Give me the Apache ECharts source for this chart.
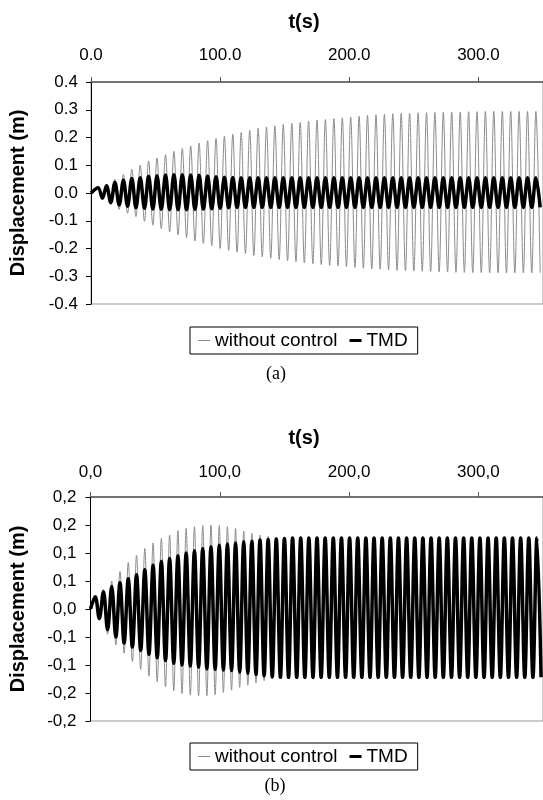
<!DOCTYPE html>
<html><head><meta charset="utf-8">
<script src="https://cdn.jsdelivr.net/npm/echarts@6/dist/echarts.min.js"></script>
<style>
html,body{margin:0;padding:0;background:#fff;width:543px;height:800px;overflow:hidden}
#ca,#cb{position:absolute;left:0;width:543px;height:400px}
#ca{top:0}#cb{top:400px}
</style></head><body>
<div id="ca"></div><div id="cb"></div>
<script>
// ---------- Panel (a): times of successive extrema (s) and displacement values (m)
const tA = [0,
  5.5, 8.8, 12.0, 15.3, 18.5, 21.8, 25.1, 28.3, 31.6, 34.8,
  38.1, 41.4, 44.6, 47.9, 51.1, 54.4, 57.7, 60.9, 64.2, 67.4,
  70.7, 74.0, 77.2, 80.5, 83.7, 87.0, 90.3, 93.5, 96.8, 100.0,
  103.3, 106.6, 109.8, 113.1, 116.3, 119.6, 122.9, 126.1, 129.4, 132.6,
  135.9, 139.2, 142.4, 145.7, 148.9, 152.2, 155.5, 158.7, 162.0, 165.2,
  168.5, 171.8, 175.0, 178.3, 181.5, 184.8, 188.1, 191.3, 194.6, 197.8,
  201.1, 204.4, 207.6, 210.9, 214.1, 217.4, 220.7, 223.9, 227.2, 230.4,
  233.7, 237.0, 240.2, 243.5, 246.7, 250.0, 253.3, 256.5, 259.8, 263.0,
  266.3, 269.6, 272.8, 276.1, 279.3, 282.6, 285.9, 289.1, 292.4, 295.6,
  298.9, 302.2, 305.4, 308.7, 311.9, 315.2, 318.5, 321.7, 325.0, 328.2,
  331.5, 334.8, 338.0, 341.3, 344.5, 347.8];
const withoutA = [0,
  0.018, -0.02, 0.03, -0.042, 0.05, -0.059, 0.067, -0.073, 0.085, -0.085,
  0.10, -0.102, 0.115, -0.116, 0.126, -0.128, 0.138, -0.14, 0.15, -0.151,
  0.161, -0.161, 0.169, -0.173, 0.18, -0.182, 0.188, -0.19, 0.197, -0.2,
  0.205, -0.207, 0.212, -0.213, 0.218, -0.219, 0.226, -0.225, 0.233, -0.23,
  0.238, -0.235, 0.242, -0.24, 0.247, -0.244, 0.251, -0.248, 0.254, -0.252,
  0.259, -0.255, 0.263, -0.258, 0.265, -0.261, 0.268, -0.263, 0.271, -0.266,
  0.274, -0.268, 0.277, -0.271, 0.28, -0.273, 0.282, -0.275, 0.283, -0.277,
  0.286, -0.279, 0.287, -0.28, 0.288, -0.281, 0.289, -0.282, 0.29, -0.283,
  0.29, -0.284, 0.291, -0.285, 0.292, -0.286, 0.292, -0.286, 0.293, -0.287,
  0.293, -0.287, 0.294, -0.288, 0.294, -0.288, 0.294, -0.288, 0.294, -0.288,
  0.294, -0.288, 0.294, -0.288, 0.294, -0.288];
const tmdA = [0,
  0.019, -0.019, 0.026, -0.034, 0.038, -0.043, 0.046, -0.048, 0.052, -0.053,
  0.055, -0.055, 0.06, -0.058, 0.062, -0.059, 0.065, -0.06, 0.066, -0.06,
  0.066, -0.06, 0.065, -0.059, 0.064, -0.058, 0.061, -0.057, 0.059, -0.055,
  0.057, -0.053, 0.056, -0.052, 0.055, -0.052, 0.055, -0.052, 0.055, -0.052,
  0.055, -0.052, 0.055, -0.052, 0.055, -0.052, 0.055, -0.052, 0.055, -0.052,
  0.055, -0.052, 0.055, -0.052, 0.055, -0.052, 0.055, -0.052, 0.055, -0.052,
  0.055, -0.052, 0.055, -0.052, 0.055, -0.052, 0.055, -0.052, 0.055, -0.052,
  0.055, -0.052, 0.055, -0.052, 0.055, -0.052, 0.055, -0.052, 0.055, -0.052,
  0.055, -0.052, 0.055, -0.052, 0.055, -0.052, 0.055, -0.052, 0.055, -0.052,
  0.055, -0.052, 0.055, -0.052, 0.055, -0.052, 0.055, -0.052, 0.055, -0.052,
  0.055, -0.052, 0.055, -0.052, 0.055, -0.052];

// ---------- Panel (b)
const tB = [0,
  3.6, 6.8, 10.0, 13.2, 16.4, 19.6, 22.8, 26.0, 29.2, 32.4,
  35.6, 38.8, 42.0, 45.2, 48.4, 51.6, 54.8, 58.0, 61.2, 64.4,
  67.6, 70.8, 74.0, 77.2, 80.4, 83.6, 86.8, 90.0, 93.2, 96.4,
  99.6, 102.8, 105.9, 109.1, 112.2, 115.4, 118.5, 121.7, 124.8, 128.0,
  131.1, 134.3, 137.4, 140.6, 143.7, 146.9, 150.0, 153.2, 156.3, 159.5,
  162.6, 165.8, 168.9, 172.1, 175.2, 178.4, 181.5, 184.7, 187.8, 191.0,
  194.1, 197.3, 200.4, 203.6, 206.7, 209.9, 213.0, 216.2, 219.3, 222.5,
  225.6, 228.8, 231.9, 235.1, 238.2, 241.4, 244.5, 247.7, 250.8, 254.0,
  257.1, 260.3, 263.4, 266.6, 269.7, 272.9, 276.0, 279.2, 282.3, 285.5,
  288.6, 291.8, 294.9, 298.1, 301.2, 304.4, 307.5, 310.7, 313.8, 317.0,
  320.1, 323.3, 326.4, 329.6, 332.7, 335.9, 339.0, 342.2, 345.3, 348.5];
const withoutB = [0,
  0.022, -0.02, 0.035, -0.045, 0.05, -0.064, 0.067, -0.079, 0.083, -0.094,
  0.096, -0.108, 0.108, -0.12, 0.118, -0.13, 0.126, -0.139, 0.132, -0.146,
  0.14, -0.151, 0.144, -0.154, 0.147, -0.155, 0.149, -0.155, 0.15, -0.153,
  0.149, -0.149, 0.147, -0.145, 0.144, -0.14, 0.139, -0.136, 0.135, -0.132,
  0.132, -0.128, 0.13, -0.125, 0.128, -0.123, 0.126, -0.121, 0.125, -0.12,
  0.124, -0.12, 0.124, -0.12, 0.124, -0.12, 0.124, -0.12, 0.124, -0.12,
  0.124, -0.12, 0.124, -0.12, 0.124, -0.12, 0.124, -0.12, 0.124, -0.12,
  0.124, -0.12, 0.124, -0.12, 0.124, -0.12, 0.124, -0.12, 0.124, -0.12,
  0.124, -0.12, 0.124, -0.12, 0.124, -0.12, 0.124, -0.12, 0.124, -0.12,
  0.124, -0.12, 0.124, -0.12, 0.124, -0.12, 0.124, -0.12, 0.124, -0.12,
  0.124, -0.12, 0.124, -0.12, 0.124, -0.12, 0.124, -0.12, 0.124, -0.12];
const tmdB = [0,
  0.022, -0.017, 0.031, -0.037, 0.04, -0.05, 0.047, -0.061, 0.054, -0.068,
  0.061, -0.074, 0.07, -0.081, 0.078, -0.087, 0.085, -0.092, 0.09, -0.097,
  0.095, -0.1, 0.1, -0.102, 0.104, -0.104, 0.108, -0.107, 0.111, -0.108,
  0.114, -0.109, 0.116, -0.11, 0.118, -0.113, 0.12, -0.115, 0.121, -0.117,
  0.123, -0.119, 0.124, -0.121, 0.125, -0.122, 0.126, -0.122, 0.127, -0.122,
  0.127, -0.122, 0.127, -0.122, 0.127, -0.122, 0.127, -0.122, 0.127, -0.122,
  0.127, -0.122, 0.127, -0.122, 0.127, -0.122, 0.127, -0.122, 0.127, -0.122,
  0.127, -0.122, 0.127, -0.122, 0.127, -0.122, 0.127, -0.122, 0.127, -0.122,
  0.127, -0.122, 0.127, -0.122, 0.127, -0.122, 0.127, -0.122, 0.127, -0.122,
  0.127, -0.122, 0.127, -0.122, 0.127, -0.122, 0.127, -0.122, 0.127, -0.122,
  0.127, -0.122, 0.127, -0.122, 0.127, -0.122, 0.127, -0.122, 0.127, -0.122];

const seriesNames = ['without control', 'TMD'];
const xRange = {min: 0, max: 350, interval: 100};
const yRangeA = {min: -0.4, max: 0.4, interval: 0.1};
const yRangeB = {min: -0.2, max: 0.2, interval: 0.05};

const FONT = '"Liberation Sans", Arial, sans-serif';
const GRAY = '#8c8c8c';

function pairs(t, v) { return t.map((x, i) => [x, v[i]]); }
function fmtDot(v) { return v.toFixed(1); }
function fmtComma(v) {
  const s = v < -1e-9 ? '-' : '';
  const r = Math.round(Math.abs(v) * 10 + 1e-6) / 10;
  return s + r.toFixed(1).replace('.', ',');
}

function makeOption(c) {
  return {
    animation: false,
    backgroundColor: '#fff',
    graphic: [
      {type: 'text', x: c.titleX, y: c.titleY,
       style: {text: 't(s)', font: 'bold 20px ' + FONT, fill: '#000', align: 'center', verticalAlign: 'middle'}},
      {type: 'text', x: c.capX, y: c.capY,
       style: {text: c.caption, font: '18px "Liberation Serif", "Times New Roman", serif', fill: '#000', align: 'center', verticalAlign: 'middle'}}
    ],
    legend: {
      left: 190, top: c.legTop, orient: 'horizontal',
      padding: [4, 10, 4, 8], itemGap: 12, itemWidth: 12, itemHeight: 14,
      borderColor: '#000', borderWidth: 1, borderRadius: 0,
      selectedMode: false,
      textStyle: {fontFamily: FONT, fontSize: 19, color: '#000'},
      data: [
        {name: seriesNames[0], icon: 'path://M0,0M0,6.5L12,6.5L12,7.5L0,7.5ZM12,14', itemStyle: {color: GRAY, borderWidth: 0}},
        {name: seriesNames[1], icon: 'path://M0,0M0,5.5L12,5.5L12,8.5L0,8.5ZM12,14', itemStyle: {color: '#000', borderWidth: 0}}
      ]
    },
    grid: {left: c.left, top: c.top, height: c.h, right: c.right, show: true, borderColor: '#999', borderWidth: 1, backgroundColor: 'transparent'},
    xAxis: {
      type: 'value', position: 'top', min: xRange.min, max: xRange.max, interval: xRange.interval,
      axisLine: {show: true, onZero: false, lineStyle: {color: '#555', width: 1.5}},
      axisTick: {show: true, length: 5, lineStyle: {color: '#555'}},
      axisLabel: {margin: c.xMargin, fontFamily: FONT, fontSize: 17, color: '#000', formatter: c.fmt, showMaxLabel: false},
      splitLine: {show: false}
    },
    yAxis: {
      type: 'value', min: c.yr.min, max: c.yr.max, interval: c.yr.interval,
      axisLine: {show: true, onZero: false, lineStyle: {color: '#000', width: 1}},
      axisTick: {show: true, length: 5, lineStyle: {color: '#000'}},
      axisLabel: {margin: c.yMargin, fontFamily: FONT, fontSize: 17, color: '#000', formatter: c.fmt},
      splitLine: {show: false},
      name: 'Displacement (m)', nameLocation: 'middle', nameGap: c.nameGap,
      nameTextStyle: {fontFamily: FONT, fontSize: 20, fontWeight: 'bold', color: '#000'}
    },
    series: [
      {name: seriesNames[0], type: 'line', data: pairs(c.t, c.wo), symbol: 'none', smooth: 0.35,
       lineStyle: {color: GRAY, width: 1}, itemStyle: {color: GRAY}, z: 2, silent: true},
      {name: seriesNames[1], type: 'line', data: pairs(c.t, c.tmd), symbol: 'none', smooth: 0.35,
       lineStyle: {color: '#000', width: 3.5}, itemStyle: {color: '#000'}, z: 3, silent: true}
    ]
  };
}

const chartA = echarts.init(document.getElementById('ca'), null, {renderer: 'canvas'});
chartA.setOption(makeOption({
  t: tA, wo: withoutA, tmd: tmdA, yr: yRangeA, fmt: fmtDot,
  left: 85, top: 82, h: 222, right: -21.5,
  xMargin: 18, yMargin: 13, nameGap: 63,
  titleX: 304, titleY: 22.5, capX: 276, capY: 374, caption: '(a)', legTop: 327
}));
const chartB = echarts.init(document.getElementById('cb'), null, {renderer: 'canvas'});
chartB.setOption(makeOption({
  t: tB, wo: withoutB, tmd: tmdB, yr: yRangeB, fmt: fmtComma,
  left: 84.5, top: 97, h: 224, right: -21.5,
  xMargin: 16, yMargin: 14, nameGap: 62.5,
  titleX: 304, titleY: 38.5, capX: 275, capY: 386, caption: '(b)', legTop: 343
}));
</script>
</body></html>
